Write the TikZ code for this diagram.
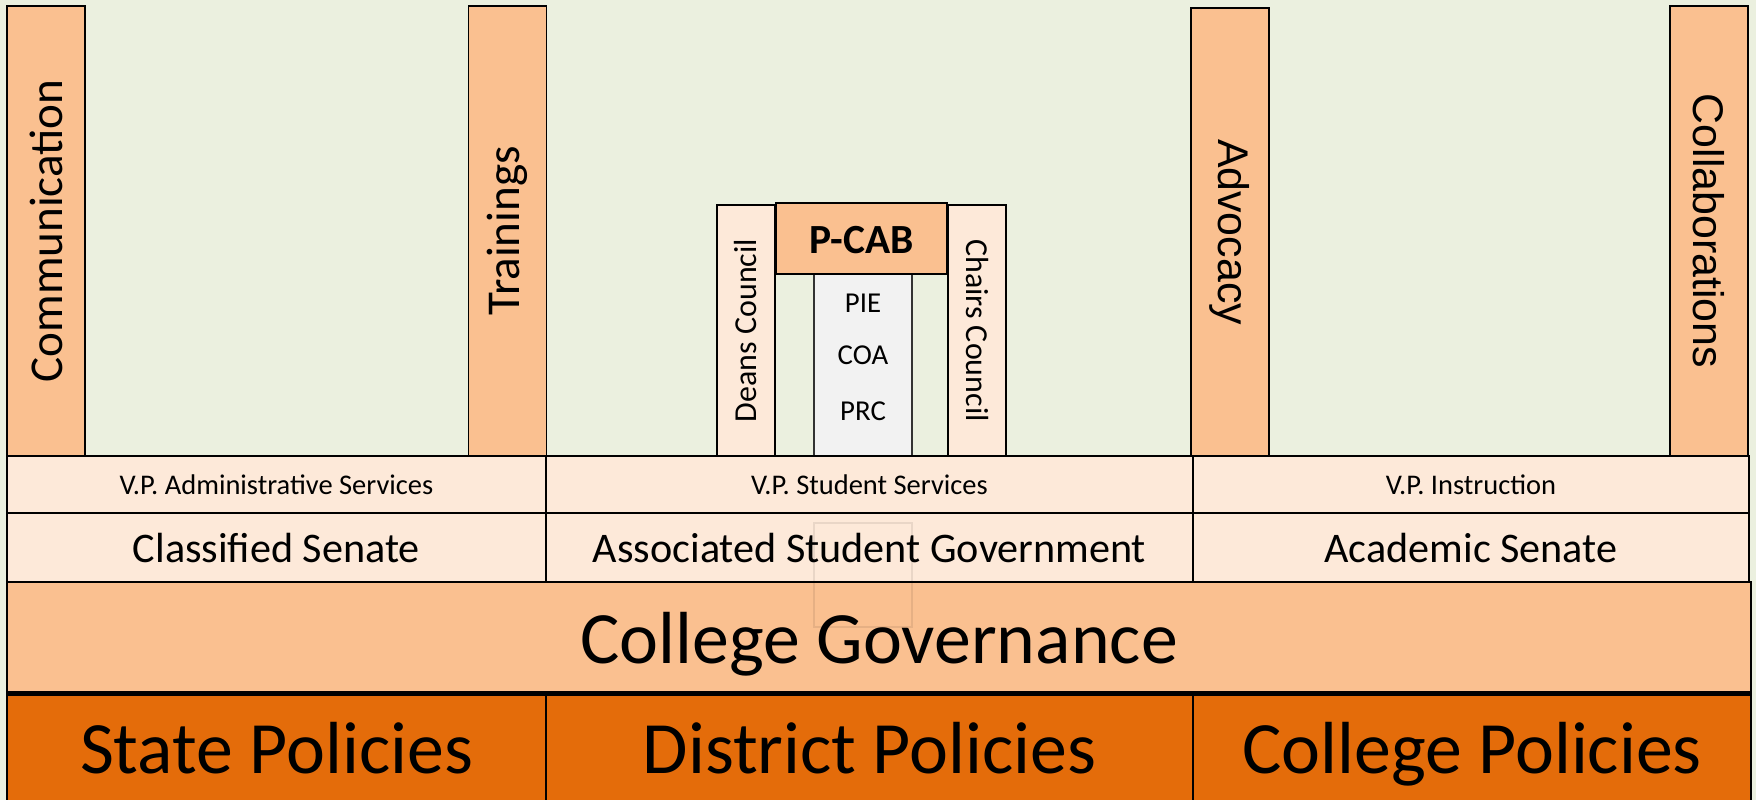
\documentclass[tikz,border=0pt]{standalone}
\usepackage{fontspec}
\setmainfont{Carlito}
\newfontfamily\arialfont{Liberation Sans}
\usetikzlibrary{positioning}
\definecolor{bgolive}{HTML}{EBF0DF}
\definecolor{tanorange}{HTML}{FAC090}
\definecolor{peach}{HTML}{FDE9D9}
\definecolor{burntorange}{HTML}{E46C0A}
\definecolor{paper}{HTML}{F2F2F2}
\newcommand{\sizedfont}[1]{\fontsize{#1pt}{#1pt}\selectfont}

\begin{document}
\begin{tikzpicture}[
    x=0.1mm, y=-0.1mm,
    cell/.style={
        draw=black,
        line width=0.5pt,
        inner sep=0pt,
        text=black
    },
    pillar/.style={
        cell,
        fill=tanorange,
        minimum width=45mm,
        minimum height=7.8mm,
        font=\sizedfont{13.4}
    },
    sidepillar/.style={
        pillar,
        minimum width=44.8mm,
        font=\arialfont\sizedfont{12.2}
    },
    council/.style={
        cell,
        fill=peach,
        minimum width=25.1mm,
        minimum height=5.8mm,
        font=\sizedfont{9.1}
    },
    vprow/.style={
        cell,
        fill=peach,
        minimum height=5.7mm,
        text height=7.7pt, text depth=2pt,
        font=\sizedfont{8.1}
    },
    senaterow/.style={
        cell,
        fill=peach,
        minimum height=6.9mm,
        text height=11.4pt, text depth=3pt,
        font=\sizedfont{12}
    },
    bigrow/.style={
        cell,
        minimum height=11.1mm,
        text height=19.9pt, text depth=5.2pt,
        font=\sizedfont{21}
    },
    policy/.style={
        bigrow,
        fill=burntorange,
        line width=0.3pt
    },
    small/.style={inner sep=0pt, text height=7.8pt, text depth=2pt,
        font=\sizedfont{8.2}}
]

\path[fill=bgolive, use as bounding box] (0,0) rectangle (1756,800);
\clip (0,0) rectangle (1756,800);

% pillars standing on the top rows
\node[pillar, rotate=90]      (comm)    at (46,231)   {Communication};
\node[pillar, rotate=90]      (train)   at (507.5,231) {Trainings};
\node[sidepillar, rotate=-90] (advo)    at (1230,232) {Advocacy};
\node[sidepillar, rotate=-90, minimum width=45mm] (collab) at (1709,231) {Collaborations};

% centre block
\node[council, rotate=90]  (deans)  at (746,330.5) {Deans Council};
\node[council, rotate=-90] (chairs) at (977,330.5) {Chairs Council};
\node[cell, fill=paper, draw=black!80, minimum width=9.8mm, minimum height=18.2mm] (review) at (863,365) {};
\node[cell, fill=tanorange, minimum width=17.1mm, minimum height=7.1mm,
      text height=11.2pt, text depth=2.9pt,
      font=\bfseries\sizedfont{11.8}] (pcab) at (861.5,238.5) {P-CAB};
\node[small] (pie) at (863,302) {PIE};
\node[small] (coa) at (863,354) {COA};
\node[small] (prc) at (863,410) {PRC};

% vice presidents
\node[vprow, minimum width=53.9mm] (vpadmin)   at (276.5,484.5)  {V.P. Administrative Services};
\node[vprow, minimum width=64.7mm] (vpstudent) at (869.5,484.5)  {V.P. Student Services};
\node[vprow, minimum width=55.6mm] (vpinstr)   at (1471,484.5)   {V.P. Instruction};

% senates
\node[senaterow, minimum width=53.9mm] (classified) at (276.5,547.5) {Classified Senate};
\node[senaterow, minimum width=64.7mm] (asg)        at (869.5,547.5) {Associated Student Government};
\node[senaterow, minimum width=55.6mm] (academic)   at (1471,547.5)  {Academic Senate};

% governance and policies
\node[bigrow, fill=tanorange, minimum width=174.4mm] (gov) at (879,637.5) {College Governance};
\node[policy, minimum width=53.9mm] (state)    at (276.5,747.5) {State Policies};
\node[policy, minimum width=64.7mm] (district) at (869.5,747.5) {District Policies};
\node[policy, minimum width=55.8mm] (college)  at (1472,747.5)  {College Policies};
\draw[line width=1pt] (gov.south west) -- (gov.south east);

% faint frame left over across the lower rows
\node[draw=black, draw opacity=0.08, line width=0.5pt, minimum width=9.8mm,
      minimum height=10.4mm, inner sep=0pt] (ghost) at (863,575) {};

\end{tikzpicture}
\end{document}
